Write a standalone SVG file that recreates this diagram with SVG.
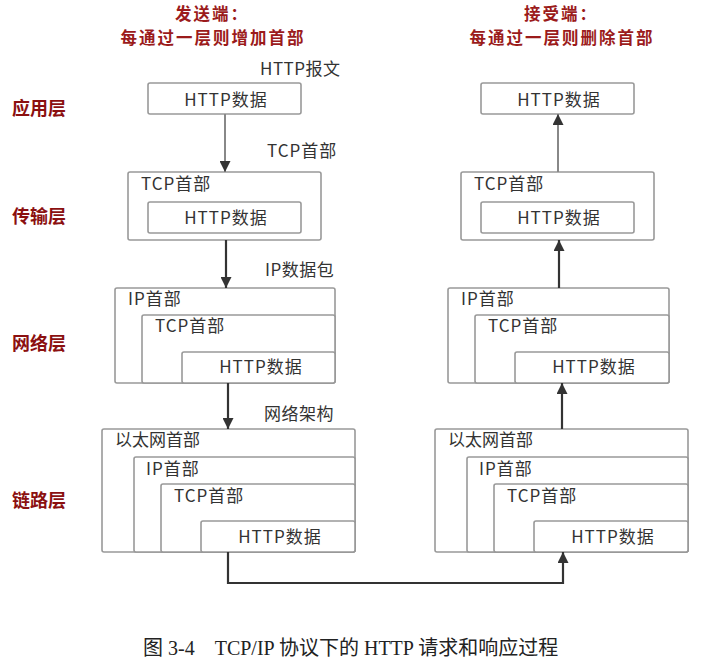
<svg xmlns="http://www.w3.org/2000/svg" width="708" height="661" viewBox="0 0 708 661">
<style>
.box{fill:#fff;stroke:#999;stroke-width:1.6}
.t{font-family:"Noto Sans CJK SC","Liberation Sans",sans-serif;font-size:17px;letter-spacing:1px;fill:#333}
.c{text-anchor:middle}
.h{font-family:"Noto Sans CJK SC","Liberation Sans",sans-serif;font-size:16.5px;letter-spacing:2px;font-weight:bold;fill:#9b1b1b}
.lay{font-family:"Noto Sans CJK SC","Liberation Sans",sans-serif;font-size:18px;font-weight:bold;fill:#8b1010}
.cap{font-family:"Liberation Serif","Noto Sans CJK SC",serif;font-size:20px;fill:#222}
.ln{fill:none;stroke:#333;stroke-width:2.2}
.lg{fill:none;stroke:#888;stroke-width:2}
</style>
<defs>
<marker id="ahl" viewBox="0 0 10 10" refX="10" refY="5" markerWidth="12" markerHeight="11" markerUnits="userSpaceOnUse" orient="auto">
<path d="M0,0 L10,5 L0,10 z" fill="#333"/>
</marker>
</defs>

<g id="titles">
<text class="h c" x="212" y="20">发送端：</text>
<text class="h c" x="213" y="44">每通过一层则增加首部</text>
<text class="h c" x="561" y="20">接受端：</text>
<text class="h c" x="562" y="44">每通过一层则删除首部</text>
</g>

<g id="layers">
<text class="lay" x="12" y="115">应用层</text>
<text class="lay" x="12" y="223">传输层</text>
<text class="lay" x="12" y="350">网络层</text>
<text class="lay" x="12" y="507">链路层</text>
</g>

<g id="labels">
<text class="t" x="260" y="75" style="letter-spacing:0.5px">HTTP报文</text>
<text class="t" x="267" y="157">TCP首部</text>
<text class="t" x="265" y="276" style="letter-spacing:0.5px">IP数据包</text>
<text class="t" x="264" y="420" style="letter-spacing:0.5px">网络架构</text>
</g>

<g id="send-app">
<rect class="box" x="148" y="83" width="153" height="31" rx="2"/>
<text class="t c" x="226" y="106">HTTP数据</text>
</g>
<g id="send-tcp">
<rect class="box" x="128" y="172" width="193" height="68" rx="2"/>
<text class="t" x="141" y="190">TCP首部</text>
<rect class="box" x="148" y="202" width="153" height="31" rx="2"/>
<text class="t c" x="226" y="224">HTTP数据</text>
</g>
<g id="send-ip">
<rect class="box" x="115" y="288" width="220" height="95" rx="2"/>
<text class="t" x="128" y="305">IP首部</text>
<rect class="box" x="142" y="315" width="193" height="68" rx="2"/>
<text class="t" x="155" y="332">TCP首部</text>
<rect class="box" x="182" y="352" width="153" height="31" rx="2"/>
<text class="t c" x="261" y="373">HTTP数据</text>
</g>
<g id="send-link">
<rect class="box" x="102" y="429" width="253" height="123" rx="2"/>
<text class="t" x="115" y="446" style="letter-spacing:0">以太网首部</text>
<rect class="box" x="134" y="457" width="221" height="95" rx="2"/>
<text class="t" x="146" y="475">IP首部</text>
<rect class="box" x="161" y="484" width="194" height="68" rx="2"/>
<text class="t" x="174" y="502">TCP首部</text>
<rect class="box" x="201" y="521" width="154" height="31" rx="2"/>
<text class="t c" x="280" y="543">HTTP数据</text>
</g>

<g id="recv-app">
<rect class="box" x="481" y="83" width="153" height="31" rx="2"/>
<text class="t c" x="559" y="106">HTTP数据</text>
</g>
<g id="recv-tcp">
<rect class="box" x="461" y="172" width="193" height="68" rx="2"/>
<text class="t" x="474" y="190">TCP首部</text>
<rect class="box" x="481" y="202" width="153" height="31" rx="2"/>
<text class="t c" x="559" y="224">HTTP数据</text>
</g>
<g id="recv-ip">
<rect class="box" x="448" y="288" width="221" height="95" rx="2"/>
<text class="t" x="461" y="305">IP首部</text>
<rect class="box" x="475" y="315" width="194" height="68" rx="2"/>
<text class="t" x="488" y="332">TCP首部</text>
<rect class="box" x="515" y="352" width="154" height="31" rx="2"/>
<text class="t c" x="594" y="373">HTTP数据</text>
</g>
<g id="recv-link">
<rect class="box" x="435" y="429" width="253" height="123" rx="2"/>
<text class="t" x="448" y="446" style="letter-spacing:0">以太网首部</text>
<rect class="box" x="467" y="457" width="221" height="95" rx="2"/>
<text class="t" x="479" y="475">IP首部</text>
<rect class="box" x="494" y="484" width="194" height="68" rx="2"/>
<text class="t" x="507" y="502">TCP首部</text>
<rect class="box" x="534" y="521" width="154" height="31" rx="2"/>
<text class="t c" x="613" y="543">HTTP数据</text>
</g>

<g id="connectors">
<line class="lg" x1="225" y1="114" x2="225" y2="172" marker-end="url(#ahl)"/>
<line class="ln" x1="226" y1="240" x2="226" y2="288" marker-end="url(#ahl)"/>
<line class="ln" x1="228" y1="383" x2="228" y2="429" marker-end="url(#ahl)"/>
<path class="ln" d="M228,552 V583 H563 V552" marker-end="url(#ahl)"/>
<line class="ln" x1="562" y1="429" x2="562" y2="383" marker-end="url(#ahl)"/>
<line class="ln" x1="559" y1="288" x2="559" y2="240" marker-end="url(#ahl)"/>
<line class="lg" x1="558" y1="172" x2="558" y2="114" marker-end="url(#ahl)"/>
</g>

<text class="cap" x="143" y="655" xml:space="preserve">图 3-4    TCP/IP 协议下的 HTTP 请求和响应过程</text>
</svg>
